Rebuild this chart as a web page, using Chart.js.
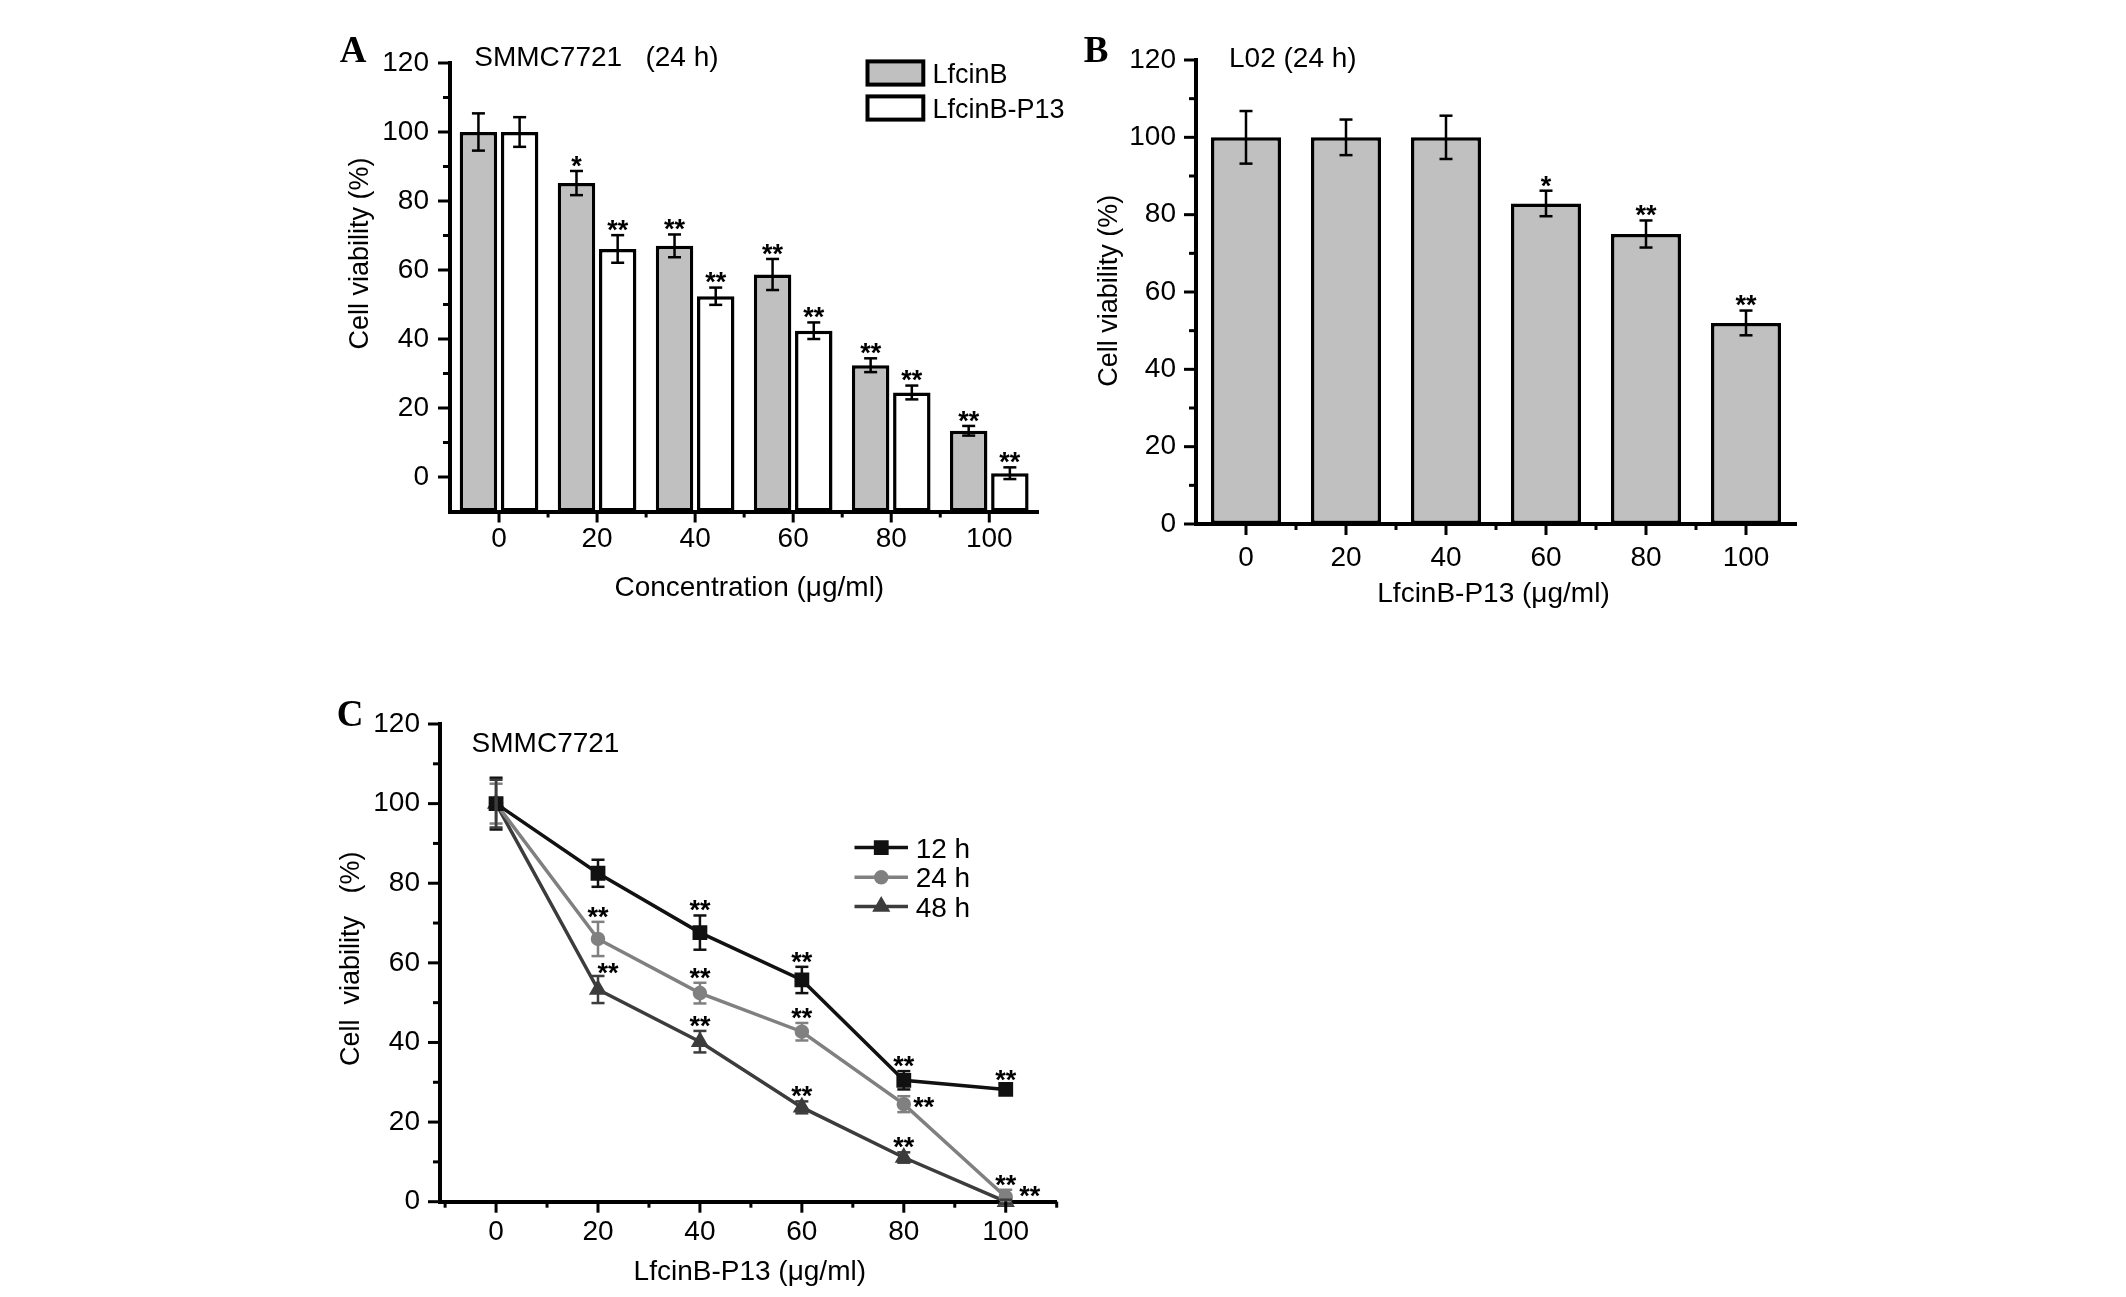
<!DOCTYPE html>
<html>
<head>
<meta charset="utf-8">
<script src="https://cdn.jsdelivr.net/npm/chart.js@4.4.1/dist/chart.umd.min.js"></script>
<style>
  body { margin: 0; background: #fff; width: 2126px; height: 1297px; position: relative; overflow: hidden; }
  canvas { position: absolute; }
</style>
</head>
<body>
<canvas id="chartA" width="800" height="640" style="left:300px;top:0px"></canvas>
<canvas id="chartB" width="800" height="640" style="left:1080px;top:0px"></canvas>
<canvas id="chartC" width="800" height="637" style="left:300px;top:660px"></canvas>
<script>
const concentrations = [0, 20, 40, 60, 80, 100];
const yMajorTicks = [0, 20, 40, 60, 80, 100, 120];
const yMinorTicks = [10, 30, 50, 70, 90, 110];
const xMinorTicksC = [-10, 10, 30, 50, 70, 90, 110];

// A: SMMC7721 (24 h)
const lfcinB = [100, 85.2, 67, 58.7, 32.4, 13.4];
const lfcinBErr = [5.4, 3.5, 3.3, 4.5, 2.0, 1.4];
const lfcinBStars = ["", "*", "**", "**", "**", "**"];
const lfcinBP13 = [100, 66.1, 52.4, 42.4, 24.5, 1.1];
const lfcinBP13Err = [4.3, 4.0, 2.5, 2.4, 2.0, 1.7];
const lfcinBP13Stars = ["", "**", "**", "**", "**", "**"];

// B: L02 (24 h)
const l02 = [100, 100, 100, 82.9, 75.0, 52.0];
const l02Err = [6.8, 4.6, 5.6, 3.3, 3.5, 3.2];
const l02Stars = ["", "", "", "*", "**", "**"];

// C: SMMC7721, 12/24/48 h
const h12 = [100, 82.5, 67.6, 55.7, 30.5, 28.2];
const h12Err = [6.5, 3.4, 4.3, 3.3, 2.3, 1.0];
const h12Stars = ["", "", "**", "**", "**", "**"];
const h24 = [100, 66.0, 52.4, 42.7, 24.5, 1.2];
const h24Err = [5.0, 4.3, 2.6, 2.2, 2.0, 1.8];
const h24Stars = ["", "**", "**", "**", "**", "**"];
const h48 = [100, 53.3, 40.2, 23.7, 11.1, 0];
const h48Err = [6.0, 3.4, 2.7, 1.5, 1.3, 0.5];
const h48Stars = ["", "**", "**", "**", "**", "**"];

const FONT = '"Liberation Sans", Arial, sans-serif';
const SERIF = '"Liberation Serif", "Times New Roman", serif';

function line(ctx, x1, y1, x2, y2) {
  ctx.beginPath();
  ctx.moveTo(x1, y1);
  ctx.lineTo(x2, y2);
  ctx.stroke();
}

// major/minor tick marks drawn outside the axes
const tickMarks = {
  id: "tickMarks",
  afterDraw(chart) {
    const ctx = chart.ctx;
    const xs = chart.scales.x;
    const ys = chart.scales.y;
    const area = chart.chartArea;
    ctx.save();
    ctx.strokeStyle = "#000";
    ctx.lineWidth = 3;
    yMajorTicks.forEach((v) => {
      const py = ys.getPixelForValue(v);
      line(ctx, area.left, py, area.left - 12, py);
    });
    yMinorTicks.forEach((v) => {
      const py = ys.getPixelForValue(v);
      line(ctx, area.left, py, area.left - 7, py);
    });
    if (xs.type === "category") {
      const n = xs.ticks.length;
      for (let i = 0; i < n; i++) {
        const px = xs.getPixelForTick(i);
        line(ctx, px, area.bottom, px, area.bottom + 11);
      }
      for (let i = 1; i < n; i++) {
        const px = (xs.getPixelForTick(i - 1) + xs.getPixelForTick(i)) / 2;
        line(ctx, px, area.bottom, px, area.bottom + 6);
      }
    } else {
      concentrations.forEach((v) => {
        const px = xs.getPixelForValue(v);
        line(ctx, px, area.bottom, px, area.bottom + 11);
      });
      xMinorTicksC.forEach((v) => {
        const px = xs.getPixelForValue(v);
        line(ctx, px, area.bottom, px, area.bottom + 6);
      });
    }
    ctx.restore();
  },
};

// error bars + significance stars
const errorBars = {
  id: "errorBars",
  afterDatasetsDraw(chart) {
    const ctx = chart.ctx;
    const ys = chart.scales.y;
    chart.data.datasets.forEach((ds, di) => {
      const meta = chart.getDatasetMeta(di);
      ctx.save();
      ctx.strokeStyle = ds.errColor || "#000";
      ctx.lineWidth = 2.5;
      meta.data.forEach((el, i) => {
        const raw = ds.data[i];
        const v = typeof raw === "object" ? raw.y : raw;
        const top = ys.getPixelForValue(v + ds.errors[i]);
        const bottom = ys.getPixelForValue(v - ds.errors[i]);
        line(ctx, el.x, top, el.x, bottom);
        line(ctx, el.x - 6.5, top, el.x + 6.5, top);
        line(ctx, el.x - 6.5, bottom, el.x + 6.5, bottom);
      });
      ctx.restore();
    });
    ctx.save();
    ctx.font = "bold 27px " + FONT;
    ctx.fillStyle = "#000";
    ctx.textAlign = "center";
    ctx.textBaseline = "alphabetic";
    chart.data.datasets.forEach((ds, di) => {
      const meta = chart.getDatasetMeta(di);
      ds.stars.forEach((s, i) => {
        if (!s) return;
        const el = meta.data[i];
        const raw = ds.data[i];
        const v = typeof raw === "object" ? raw.y : raw;
        const top = ys.getPixelForValue(v + ds.errors[i]);
        const place = ds.starPlace ? ds.starPlace[i] : "up";
        let cx = el.x;
        let cy = top - 11.5;
        if (place === "upRight") { cx = el.x + 10; cy = top - 9; }
        if (place === "right") { cx = el.x + 20; cy = el.y - 4; }
        if (place === "rightHigh") { cx = el.x + 24; cy = el.y - 12; }
        ctx.fillText(s, cx, cy + 15.4);
      });
    });
    ctx.restore();
  },
};

// panel letters, inner titles, axis titles, legends
const decor = {
  id: "decor",
  afterDraw(chart, args, opts) {
    const ctx = chart.ctx;
    ctx.save();
    ctx.fillStyle = "#000";
    opts.texts.forEach((t) => {
      ctx.save();
      ctx.font = t.font;
      ctx.textAlign = t.align || "left";
      ctx.textBaseline = t.baseline || "alphabetic";
      ctx.translate(t.x, t.y);
      if (t.rotate) ctx.rotate(t.rotate);
      ctx.fillText(t.text, 0, 0);
      ctx.restore();
    });
    const lg = opts.legend;
    if (lg && lg.type === "box") {
      chart.data.datasets.forEach((ds, i) => {
        const y = lg.ys[i];
        ctx.fillStyle = ds.backgroundColor;
        ctx.fillRect(lg.x, y, lg.w, lg.h);
        ctx.strokeStyle = "#000";
        ctx.lineWidth = 4;
        ctx.strokeRect(lg.x, y, lg.w, lg.h);
        ctx.fillStyle = "#000";
        ctx.font = "27px " + FONT;
        ctx.fillText(ds.label, lg.textX, y + lg.h / 2 + 10);
      });
    }
    if (lg && lg.type === "line") {
      chart.data.datasets.forEach((ds, i) => {
        const y = lg.ys[i];
        ctx.strokeStyle = ds.borderColor;
        ctx.lineWidth = 3.5;
        line(ctx, lg.x1, y, lg.x2, y);
        ctx.fillStyle = ds.borderColor;
        Chart.helpers.drawPoint(ctx, { pointStyle: ds.pointStyle, radius: ds.pointRadius, rotation: 0, borderWidth: 1 }, (lg.x1 + lg.x2) / 2, y);
        ctx.fillStyle = "#000";
        ctx.font = "28px " + FONT;
        ctx.fillText(ds.label, lg.textX, y + 10);
      });
    }
    ctx.restore();
  },
};

function yAxis(min, pad, width) {
  return {
    min: min,
    max: 120,
    afterBuildTicks: (s) => { s.ticks = yMajorTicks.map((v) => ({ value: v })); },
    grid: { display: false, drawTicks: false },
    border: { display: true, width: 4, color: "#000" },
    ticks: { color: "#000", font: { family: FONT, size: 28 }, padding: pad },
    afterFit: (s) => { s.width = width; },
  };
}

function xCategory(pad) {
  return {
    grid: { display: false, drawTicks: false },
    border: { display: true, width: 4, color: "#000" },
    ticks: { color: "#000", font: { family: FONT, size: 28 }, padding: pad, autoSkip: false, maxRotation: 0 },
    afterFit: (s) => { s.height = 60; },
  };
}

const baseOptions = {
  responsive: false,
  devicePixelRatio: 1,
  animation: false,
  events: [],
};

// ---- A ----
new Chart(document.getElementById("chartA"), {
  type: "bar",
  data: {
    labels: concentrations.map(String),
    datasets: [
      {
        label: "LfcinB",
        data: lfcinB,
        errors: lfcinBErr,
        stars: lfcinBStars,
        backgroundColor: "#c0c0c0",
        borderColor: "#000",
        borderWidth: 3.5,
        borderSkipped: false,
        base: -10,
        categoryPercentage: 0.84,
        barPercentage: 0.91,
      },
      {
        label: "LfcinB-P13",
        data: lfcinBP13,
        errors: lfcinBP13Err,
        stars: lfcinBP13Stars,
        backgroundColor: "#ffffff",
        borderColor: "#000",
        borderWidth: 3.5,
        borderSkipped: false,
        base: -10,
        categoryPercentage: 0.84,
        barPercentage: 0.91,
      },
    ],
  },
  options: {
    ...baseOptions,
    layout: { padding: { top: 63, right: 61.7, bottom: 68.5, left: 0 } },
    plugins: {
      legend: { display: false },
      tooltip: { enabled: false },
      decor: {
        texts: [
          { text: "A", x: 53, y: 52, font: "bold 37px " + SERIF, align: "center", baseline: "middle" },
          { text: "SMMC7721   (24 h)", x: 174.3, y: 66.2, font: "28px " + FONT },
          { text: "Concentration (\u03bcg/ml)", x: 449.3, y: 595.5, font: "28px " + FONT, align: "center" },
          { text: "Cell viability (%)", x: 60.2, y: 253.5, font: "27px " + FONT, align: "center", baseline: "middle", rotate: -Math.PI / 2 },
        ],
        legend: { type: "box", x: 567.5, ys: [61.4, 96.4], w: 55.8, h: 23.2, textX: 632.5 },
      },
    },
    scales: {
      x: xCategory(10.5),
      y: yAxis(-10, 21, 150),
    },
  },
  plugins: [tickMarks, errorBars, decor],
});

// ---- B ----
new Chart(document.getElementById("chartB"), {
  type: "bar",
  data: {
    labels: concentrations.map(String),
    datasets: [
      {
        label: "L02",
        data: l02,
        errors: l02Err,
        stars: l02Stars,
        backgroundColor: "#c0c0c0",
        borderColor: "#000",
        borderWidth: 3.5,
        borderSkipped: false,
        categoryPercentage: 0.7,
        barPercentage: 1.0,
      },
    ],
  },
  options: {
    ...baseOptions,
    layout: { padding: { top: 60, right: 84, bottom: 56, left: 0 } },
    plugins: {
      legend: { display: false },
      tooltip: { enabled: false },
      decor: {
        texts: [
          { text: "B", x: 16, y: 52, font: "bold 37px " + SERIF, align: "center", baseline: "middle" },
          { text: "L02 (24 h)", x: 149, y: 66.9, font: "28px " + FONT },
          { text: "LfcinB-P13 (\u03bcg/ml)", x: 413.5, y: 601.5, font: "28px " + FONT, align: "center" },
          { text: "Cell viability (%)", x: 30, y: 290.8, font: "27px " + FONT, align: "center", baseline: "middle", rotate: -Math.PI / 2 },
        ],
      },
    },
    scales: {
      x: xCategory(17.8),
      y: yAxis(0, 20, 116),
    },
  },
  plugins: [tickMarks, errorBars, decor],
});

// ---- C ----
function points(values) {
  return concentrations.map((c, i) => ({ x: c, y: values[i] }));
}

new Chart(document.getElementById("chartC"), {
  type: "line",
  data: {
    datasets: [
      {
        label: "12 h",
        data: points(h12),
        errors: h12Err,
        stars: h12Stars,
        starPlace: ["up", "up", "up", "up", "up", "up"],
        borderColor: "#111111",
        backgroundColor: "#111111",
        errColor: "#111111",
        borderWidth: 3.5,
        pointStyle: "rect",
        pointRadius: 8,
        clip: false,
      },
      {
        label: "24 h",
        data: points(h24),
        errors: h24Err,
        stars: h24Stars,
        starPlace: ["up", "up", "up", "up", "right", "up"],
        borderColor: "#808080",
        backgroundColor: "#808080",
        errColor: "#808080",
        borderWidth: 3.5,
        pointStyle: "circle",
        pointRadius: 5.5,
        clip: false,
      },
      {
        label: "48 h",
        data: points(h48),
        errors: h48Err,
        stars: h48Stars,
        starPlace: ["up", "upRight", "up", "up", "up", "rightHigh"],
        borderColor: "#3c3c3c",
        backgroundColor: "#3c3c3c",
        errColor: "#3c3c3c",
        borderWidth: 3.5,
        pointStyle: "triangle",
        pointRadius: 7,
        clip: false,
      },
    ],
  },
  options: {
    ...baseOptions,
    layout: { padding: { top: 64, right: 43.3, bottom: 35.3, left: 0 } },
    plugins: {
      legend: { display: false },
      tooltip: { enabled: false },
      decor: {
        texts: [
          { text: "C", x: 50, y: 56, font: "bold 37px " + SERIF, align: "center", baseline: "middle" },
          { text: "SMMC7721", x: 171.6, y: 92, font: "28px " + FONT },
          { text: "LfcinB-P13 (\u03bcg/ml)", x: 449.8, y: 619.6, font: "28px " + FONT, align: "center" },
          { text: "Cell  viability   (%)", x: 51.7, y: 298.8, font: "27px " + FONT, align: "center", baseline: "middle", rotate: -Math.PI / 2 },
        ],
        legend: { type: "line", x1: 554.5, x2: 608, ys: [187.6, 217.3, 246.6], textX: 615.7 },
      },
    },
    scales: {
      x: {
        type: "linear",
        min: -11,
        max: 110,
        afterBuildTicks: (s) => { s.ticks = concentrations.map((v) => ({ value: v })); },
        grid: { display: false, drawTicks: false },
        border: { display: true, width: 4, color: "#000" },
        ticks: { color: "#000", font: { family: FONT, size: 28 }, padding: 13.3, maxRotation: 0 },
        afterFit: (s) => { s.height = 60; },
      },
      y: yAxis(0, 20, 140),
    },
  },
  plugins: [tickMarks, errorBars, decor],
});
</script>
</body>
</html>
